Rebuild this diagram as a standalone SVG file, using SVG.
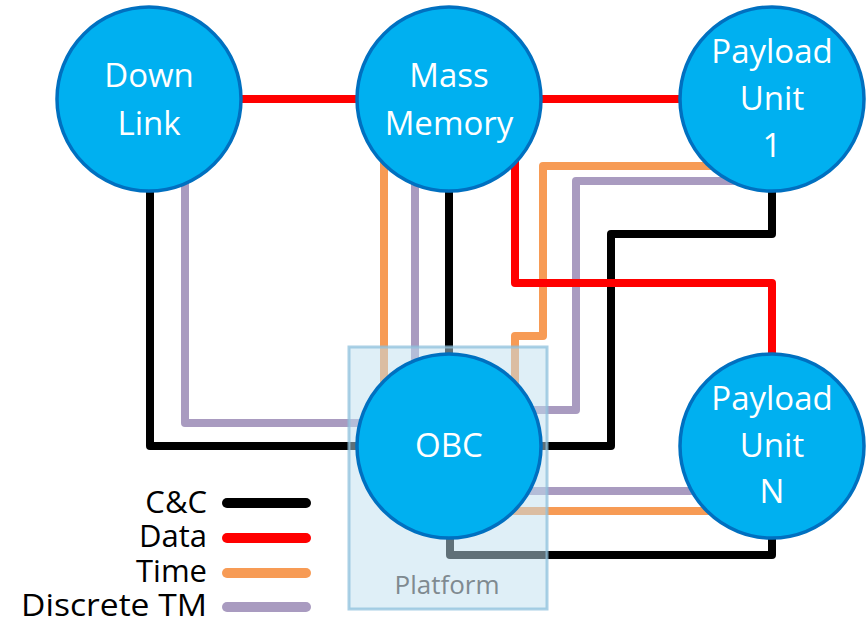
<svg xmlns="http://www.w3.org/2000/svg" width="866" height="622" viewBox="0 0 866 622">
<style>
.c{fill:none;stroke-width:8;stroke-linejoin:round}
.k{stroke:#000000}.r{stroke:#FF0000}.o{stroke:#F79B55}.p{stroke:#A99BC0}
.node{fill:#00B0F0;stroke:#0070C0;stroke-width:3.5}
.nt{font-family:"Open Sans","Noto Sans",sans-serif;font-size:33px;fill:#FFFFFF;text-anchor:middle}
.lt{font-family:"Open Sans","Noto Sans",sans-serif;font-size:31px;fill:#000000;text-anchor:end}
.ll{stroke-width:10;stroke-linecap:round}
</style>
<rect width="866" height="622" fill="#FFFFFF"/>
<g id="connectors">
<path class="c k" d="M150,150 V446 H400"/>
<path class="c p" d="M185,150 V423 H400"/>
<path class="c o" d="M384,150 V420"/>
<path class="c p" d="M415,150 V400"/>
<path class="c k" d="M449,150 V400"/>
<path class="c o" d="M760,166 H543 V336 H515 V400"/>
<path class="c p" d="M760,181 H576 V410 H500"/>
<path class="c k" d="M772,150 V234 H611 V446 H500"/>
<path class="c p" d="M500,491 H740"/>
<path class="c o" d="M500,511 H740"/>
<path class="c k" d="M450,500 V555 H772 V500"/>
<path class="c r" d="M200,99 H720"/>
<path class="c r" d="M515,150 V283 H772 V400"/>
</g>
<g id="platform">
<rect x="349" y="347" width="198" height="262" fill="#BFDFF0" fill-opacity="0.5" stroke="#8EC0DC" stroke-opacity="0.75" stroke-width="3"/>
<text x="447" y="594" font-family="'Open Sans','Noto Sans',sans-serif" font-size="26" fill="#7F8A90" text-anchor="middle">Platform</text>
</g>
<g id="downlink">
<circle class="node" cx="149" cy="99" r="92"/>
<text class="nt" x="149" y="87">Down</text>
<text class="nt" x="149" y="135">Link</text>
</g>
<g id="massmemory">
<circle class="node" cx="449" cy="99" r="92"/>
<text class="nt" x="449" y="87">Mass</text>
<text class="nt" x="449" y="135">Memory</text>
</g>
<g id="payload1">
<circle class="node" cx="772" cy="99" r="92"/>
<text class="nt" x="772" y="63">Payload</text>
<text class="nt" x="772" y="110">Unit</text>
<text class="nt" x="772" y="157">1</text>
</g>
<g id="obc">
<circle class="node" cx="449" cy="446" r="92"/>
<text class="nt" x="449" y="457">OBC</text>
</g>
<g id="payloadN">
<circle class="node" cx="772" cy="446" r="92"/>
<text class="nt" x="772" y="410">Payload</text>
<text class="nt" x="772" y="457">Unit</text>
<text class="nt" x="772" y="503">N</text>
</g>
<g id="legend">
<text class="lt" x="207" y="513">C&amp;C</text>
<text class="lt" x="207" y="547">Data</text>
<text class="lt" x="207" y="582">Time</text>
<text class="lt" x="207" y="616" textLength="186" lengthAdjust="spacingAndGlyphs">Discrete TM</text>
<line class="ll" x1="227" y1="503" x2="306" y2="503" stroke="#000000"/>
<line class="ll" x1="227" y1="538" x2="306" y2="538" stroke="#FF0000"/>
<line class="ll" x1="227" y1="573" x2="306" y2="573" stroke="#F79B55"/>
<line class="ll" x1="227" y1="607" x2="306" y2="607" stroke="#A99BC0"/>
</g>
</svg>
